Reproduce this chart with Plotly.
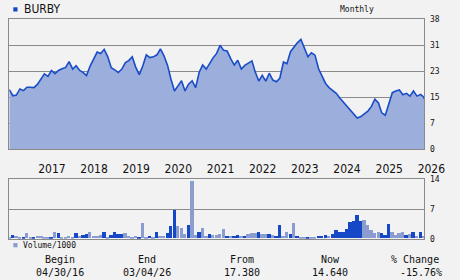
import math
import pandas as pd
import plotly.graph_objects as go

symbol = "BURBY"
period_label = "Monthly"

# monthly closes (month ends from Apr 2016) plus final close
price = [17.38, 15.6, 15.8, 17.6, 17.1, 18.1, 18.1, 18.0, 19.0, 20.8,
         22.0, 21.3, 23.0, 22.1, 23.0, 23.5, 23.9, 25.6, 23.4, 24.4,
         23.0, 22.4, 21.5, 24.3, 26.3, 28.4, 28.0, 29.2, 27.0, 23.8,
         23.2, 22.4, 23.4, 25.3, 25.9, 27.0, 24.0, 21.8, 24.3, 27.6,
         26.8, 27.0, 27.6, 29.3, 27.3, 24.5, 20.5, 17.0, 18.5, 20.0,
         17.0, 19.0, 20.0, 18.0, 22.5, 24.6, 23.4, 25.3, 26.7, 28.0,
         30.4, 28.9, 28.7, 26.5, 24.6, 26.0, 23.4, 24.5, 25.2, 25.8,
         22.6, 19.9, 21.6, 19.9, 22.2, 20.2, 19.7, 20.8, 25.5, 25.0,
         28.5, 29.9, 31.1, 32.1, 29.5, 27.0, 28.2, 27.5, 23.5, 21.2,
         19.2, 18.0, 17.2, 16.3, 15.0, 13.8, 12.5, 11.2, 10.1, 9.1,
         9.5, 10.2, 11.1, 12.4, 14.6, 13.5, 10.6, 9.9, 13.5, 16.5,
         17.0, 17.3, 15.9, 16.3, 15.5, 17.0, 15.5, 16.0, 15.2, 14.64]

begin_date = "2016-04-30"
end_date = "2026-03-04"
month_ends = [d.strftime("%Y-%m-%d") for d in
              pd.date_range(begin_date, periods=119, freq=pd.offsets.MonthEnd())]
price_dates = month_ends + [end_date]

# volume / 1000 per month
volume = [0.4, 0.8, 0.5, 0.4, 0.3, 1.3, 0.2, 0.3, 0.5, 0.5,
          0.4, 0.2, 0.3, 1.6, 1.2, 0.2, 0.4, 0.5, 0.3, 1.2,
          0.6, 0.9, 1.0, 1.6, 0.5, 0.5, 0.8, 1.6, 0.3, 0.9,
          1.4, 1.0, 1.0, 1.3, 0.5, 0.4, 0.5, 0.4, 3.6, 0.4,
          0.5, 0.4, 1.6, 0.5, 0.5, 1.2, 2.9, 6.7, 2.9, 2.5,
          1.0, 3.2, 13.5, 0.8, 1.6, 2.5, 0.5, 1.0, 0.8, 0.8,
          1.0, 2.1, 0.5, 0.5, 0.5, 0.8, 0.5, 0.5, 1.0, 1.3,
          1.3, 1.4, 1.0, 1.0, 1.0, 0.8, 0.5, 3.2, 0.5, 1.6,
          1.0, 3.6, 0.5, 0.4, 0.2, 0.2, 0.2, 0.1, 0.5, 0.5,
          0.8, 0.5, 1.0, 2.0, 1.4, 1.4, 2.1, 3.8, 4.1, 5.5,
          4.1, 4.3, 3.2, 2.0, 1.3, 1.6, 1.3, 0.8, 3.4, 1.6,
          0.8, 1.3, 1.6, 0.8, 1.0, 1.4, 0.5, 1.4, 0.5]
vol_dark = [0, 1, 0, 0, 1, 0, 0, 1, 0, 0,
            0, 0, 1, 0, 1, 0, 0, 0, 0, 1,
            0, 1, 1, 0, 0, 0, 0, 1, 0, 1,
            1, 1, 1, 0, 0, 0, 0, 1, 0, 0,
            1, 0, 1, 0, 0, 1, 1, 1, 0, 0,
            0, 1, 0, 0, 1, 0, 0, 1, 0, 0,
            0, 0, 1, 0, 1, 1, 0, 1, 0, 0,
            0, 1, 0, 0, 1, 0, 1, 1, 0, 0,
            1, 0, 1, 0, 0, 1, 0, 0, 1, 1,
            1, 0, 1, 1, 1, 1, 1, 1, 1, 1,
            1, 0, 0, 0, 0, 0, 1, 1, 1, 0,
            0, 0, 0, 1, 0, 1, 0, 1, 0]

year_ticks = ["2017-01-01", "2018-01-01", "2019-01-01", "2020-01-01", "2021-01-01",
              "2022-01-01", "2023-01-01", "2024-01-01", "2025-01-01", "2026-01-01"]
year_labels = ["2017", "2018", "2019", "2020", "2021",
               "2022", "2023", "2024", "2025", "2026"]
price_tickvals = [0, 7.6, 15.2, 22.8, 30.4, 38]
price_ticktext = ["0", "7", "15", "23", "31", "38"]
vol_tickvals = [0, 7, 14]
vol_ticktext = ["0", "7", "14"]

BG = "#f2f2f2"
GRID = "#8a8a8a"
LINE = "#1a4cc8"
FILL = "#9baedc"
DARK = "#1548c6"
LIGHT = "#8b9dd0"
SANS = "DejaVu Sans Condensed, Liberation Sans Narrow, Liberation Sans, Arial, sans-serif"
MONO = "DejaVu Sans Mono, Liberation Mono, monospace"

W, H = 460, 280
def px(x):
    return x / W
def py(y):
    return 1 - y / H

fig = go.Figure()
fig.add_trace(go.Scatter(x=price_dates, y=price, mode="lines",
                         line=dict(color=LINE, width=1.6), fill="tozeroy",
                         fillcolor=FILL, xaxis="x", yaxis="y", hoverinfo="skip"))
fig.add_trace(go.Bar(x=month_ends, y=volume,
                     marker=dict(color=[DARK if d else LIGHT for d in vol_dark],
                                 line=dict(width=0)),
                     width=29 * 86400000, xaxis="x2", yaxis="y2", hoverinfo="skip"))

xdom = [px(9.3), px(424.3)]
axis_common = dict(showline=True, mirror=True, linecolor=GRID, linewidth=1,
                   zeroline=False, automargin=False)
fig.update_layout(
    template="none",
    width=W, height=H, margin=dict(l=0, r=0, t=0, b=0, pad=0, autoexpand=False),
    paper_bgcolor=BG, plot_bgcolor=BG, showlegend=False, bargap=0,
    xaxis=dict(domain=xdom, range=[begin_date, end_date], type="date",
               tickvals=year_ticks, ticktext=year_labels,
               ticklabelposition="outside right", ticks="", ticklabelstandoff=9,
               showgrid=False, anchor="y",
               tickfont=dict(family=SANS, size=12, color="#111"), **axis_common),
    yaxis=dict(domain=[py(149), py(19.3)], range=[0, 38], side="right", anchor="x",
               tickvals=price_tickvals, ticktext=price_ticktext, ticks="",
               ticklabelstandoff=3,
               showgrid=True, gridcolor=GRID, gridwidth=1,
               tickfont=dict(family=MONO, size=8, color="#111"), **axis_common),
    xaxis2=dict(domain=xdom, range=[begin_date, end_date], type="date",
                showticklabels=False, ticks="", showgrid=False, anchor="y2", **axis_common),
    yaxis2=dict(domain=[py(238.7), py(179.3)], range=[0, 14], side="right", anchor="x2",
                tickvals=vol_tickvals, ticktext=vol_ticktext, ticks="",
                ticklabelstandoff=3,
                showgrid=True, gridcolor=GRID, gridwidth=1,
                tickfont=dict(family=MONO, size=8, color="#111"), **axis_common),
)

shapes = [
    dict(type="rect", xref="paper", yref="paper", x0=px(13.3), x1=px(17.5),
         y0=py(11.5), y1=py(7.3), fillcolor=DARK, line=dict(width=0)),
    dict(type="rect", xref="paper", yref="paper", x0=px(13.3), x1=px(17.5),
         y0=py(247.3), y1=py(243.1), fillcolor=LIGHT, line=dict(width=0)),
]
fig.update_layout(shapes=shapes)

def fmt_date(s):
    t = pd.Timestamp(s)
    return t.strftime("%m/%d/%y")

pct = math.trunc((price[-1] / price[0] - 1) * 10000) / 100

ann = []
def add(text, x, y, size, family, xanchor="center"):
    ann.append(dict(text=text, x=px(x), y=py(y), xref="paper", yref="paper",
                    showarrow=False, xanchor=xanchor, yanchor="middle",
                    font=dict(family=family, size=size, color="#111")))

add(symbol, 21.5, 9.2, 12, SANS, "left")
add(period_label, 357, 9, 8, MONO)
add("Volume/1000", 20.5, 245.5, 8, MONO, "left")
add("Begin", 60.5, 259.3, 10, MONO)
add(fmt_date(begin_date), 59.5, 272.7, 10, MONO)
add("End", 146.5, 259.3, 10, MONO)
add(fmt_date(end_date), 147, 272.7, 10, MONO)
add("From", 241.5, 259.3, 10, MONO)
add(f"{price[0]:.3f}", 242, 272.7, 10, MONO)
add("Now", 330.5, 259.3, 10, MONO)
add(f"{price[-1]:.3f}", 329.5, 272.7, 10, MONO)
add("% Change", 414.7, 259.3, 10, MONO)
add(f"{pct:.2f}%", 420.5, 272.7, 10, MONO)
fig.update_layout(annotations=ann)

fig.write_html("out.html")
